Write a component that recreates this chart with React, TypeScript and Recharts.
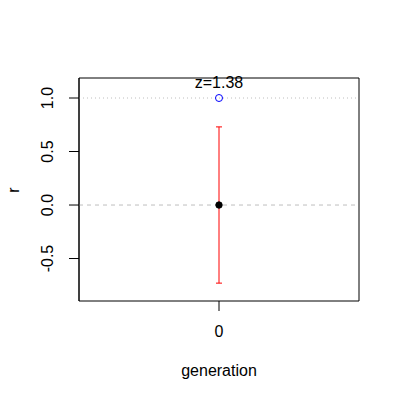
import { ComposedChart, Scatter, XAxis, YAxis, ReferenceLine, ReferenceArea, ErrorBar, Label, LabelList } from 'recharts';

const generations = [0];
const rValues = [0];
const rErrors = [0.73];
const zValues = [1.0];
const zLabels = ['z=1.38'];
const yTicks = [-0.5, 0, 0.5, 1];
const xTicks = [0];

const font = 'Liberation Sans, Arial, Helvetica, sans-serif';

const mainData = generations.map((g, i) => ({ generation: g, r: rValues[i], err: [rErrors[i], rErrors[i]] }));
const zData = generations.map((g, i) => ({ generation: g, r: zValues[i], label: zLabels[i] }));

const YTick = (props: any) => {
  const { y, payload } = props;
  return (
    <text x={48} y={y} transform={`rotate(-90, 48, ${y})`} textAnchor="middle" dominantBaseline="central"
      fontSize={16} fontFamily={font} fill="#000">
      {Number(payload.value).toFixed(1)}
    </text>
  );
};

const XTick = (props: any) => {
  const { x, payload } = props;
  return (
    <text x={x} y={331} textAnchor="middle" dominantBaseline="central" fontSize={16} fontFamily={font} fill="#000">
      {payload.value}
    </text>
  );
};

const App = () => {
  return (
    <div style={{ position: 'absolute', left: 0, top: 0, width: 400, height: 400, background: '#fff' }}>
      <ComposedChart width={400} height={400} margin={{ top: 78, right: 41, bottom: 69, left: 0 }}>
        <XAxis
          type="number"
          dataKey="generation"
          height={30}
          domain={[-1, 1]}
          ticks={xTicks}
          axisLine={false}
          tickSize={10}
          tickLine={{ stroke: '#000' }}
          tick={<XTick />}
          allowDataOverflow
        >
          <Label content={() => (
            <text x={219} y={370} textAnchor="middle" dominantBaseline="central" fontSize={16} fontFamily={font} fill="#000">
              generation
            </text>
          )} />
        </XAxis>
        <YAxis
          type="number"
          dataKey="r"
          width={79}
          domain={[-0.897, 1.187]}
          ticks={yTicks}
          axisLine={{ stroke: '#000' }}
          tickSize={10}
          tickLine={{ stroke: '#000' }}
          tick={<YTick />}
          allowDataOverflow
        >
          <Label content={() => (
            <text x={13} y={190} transform="rotate(-90, 13, 190)" textAnchor="middle" dominantBaseline="central"
              fontSize={16} fontFamily={font} fill="#000">
              r
            </text>
          )} />
        </YAxis>
        <ReferenceArea x1={-1} x2={1} y1={-0.897} y2={1.187} fill="none" stroke="#000" strokeWidth={1} />
        <ReferenceLine y={1} stroke="#bebebe" strokeDasharray="1 3" />
        <ReferenceLine y={0} stroke="#bebebe" strokeDasharray="4 4" />
        <Scatter data={mainData} isAnimationActive={false}
          shape={(p: any) => <circle cx={p.cx} cy={p.cy} r={3.2} fill="#000" stroke="#000" />}>
          <ErrorBar dataKey="err" direction="y" width={3} stroke="#ff0000" strokeWidth={1} />
        </Scatter>
        <Scatter data={zData} isAnimationActive={false}
          shape={(p: any) => <circle cx={p.cx} cy={p.cy} r={3.5} fill="none" stroke="#0000ff" strokeWidth={1} />}>
          <LabelList dataKey="label" content={(p: any) => (
            <text x={p.x + p.width / 2} y={p.y - 11} textAnchor="middle" dominantBaseline="central"
              fontSize={16} fontFamily={font} fill="#000">
              {p.value}
            </text>
          )} />
        </Scatter>
      </ComposedChart>
    </div>
  );
};

export default App;
